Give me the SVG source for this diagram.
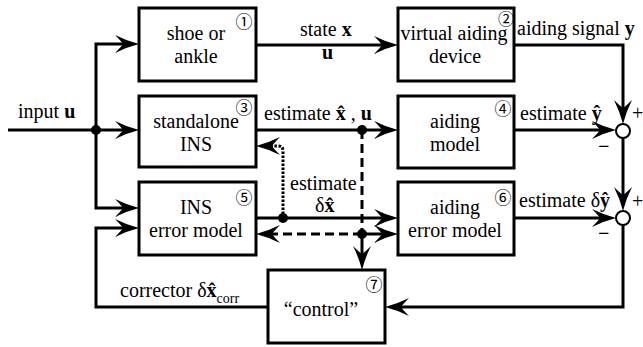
<svg xmlns="http://www.w3.org/2000/svg" width="643" height="347" viewBox="0 0 643 347" font-family="Liberation Serif, serif" font-size="20">
<style>
.box{fill:#fff;stroke:#000;stroke-width:3}
.m{text-anchor:middle}
.b{font-weight:bold}
.n{text-anchor:middle;dominant-baseline:central}
.ln{fill:none;stroke:#000;stroke-width:3}
.dash{stroke-dasharray:9,5}
.dot{stroke-dasharray:2.5,1.5}
.sum{fill:#fff;stroke:#000;stroke-width:2}
</style>
<defs>
<marker id="ah" markerUnits="userSpaceOnUse" viewBox="-10 -10 28 20" markerWidth="28" markerHeight="20" refX="0" refY="0" orient="auto">
<path d="M16,0 Q4,-3 -8,-9 Q-2,-3 0,0 Q-2,3 -8,9 Q4,3 16,0 Z" fill="#000"/>
</marker>
</defs>
<rect width="643" height="347" fill="#fff"/>
<g id="connectors">
<path class="ln" d="M8,130 H123" marker-end="url(#ah)"/>
<path class="ln" d="M96,130 V44 H123" marker-end="url(#ah)"/>
<path class="ln" d="M96,130 V208 H123" marker-end="url(#ah)"/>
<path class="ln" d="M268,307 H96 V228 H123" marker-end="url(#ah)"/>
<path class="ln" d="M256,45 H382" marker-end="url(#ah)"/>
<path class="ln" d="M256,130 H382" marker-end="url(#ah)"/>
<path class="ln" d="M514,130 H600" marker-end="url(#ah)"/>
<path class="ln" d="M514,45 H623 V108" marker-end="url(#ah)"/>
<path class="ln" d="M623,138 V195" marker-end="url(#ah)"/>
<path class="ln" d="M514,218 H600" marker-end="url(#ah)"/>
<path class="ln" d="M623,225 V307 H401" marker-end="url(#ah)"/>
<path class="ln" d="M256,218 H382" marker-end="url(#ah)"/>
<path class="ln dash" d="M362,130 V234"/>
<path class="ln dash" d="M362,234 H272" marker-end="url(#ah)"/>
<path class="ln" d="M362,234 V254" marker-end="url(#ah)"/>
<path class="ln" d="M362,234 H382" marker-end="url(#ah)"/>
<path class="ln dot" d="M283,218 V151 Q283,146 278,146 H272" marker-end="url(#ah)"/>
<circle cx="96" cy="130" r="5"/>
<circle cx="362" cy="130" r="5"/>
<circle cx="283" cy="218" r="5"/>
<circle cx="362" cy="234" r="5"/>
<circle class="sum" cx="623" cy="131" r="7"/>
<circle class="sum" cx="623" cy="218" r="7"/>
<text x="632" y="120">+</text>
<text class="b" x="598" y="153">−</text>
<text x="632" y="208">+</text>
<text class="b" x="598" y="240">−</text>
<text x="18" y="118">input <tspan class="b">u</tspan></text>
<text x="300" y="36">state <tspan class="b">x</tspan></text>
<text class="b" x="322" y="59">u</text>
<text x="264" y="120">estimate <tspan class="b">x̂</tspan> , <tspan class="b">u</tspan></text>
<text x="517" y="35">aiding signal <tspan class="b">y</tspan></text>
<text x="520" y="120">estimate <tspan class="b">ŷ</tspan></text>
<text x="519" y="207">estimate δ<tspan class="b">ŷ</tspan></text>
<text x="290" y="190">estimate</text>
<text x="315" y="212">δ<tspan class="b">x̂</tspan></text>
<text x="120" y="297">corrector δ<tspan class="b">x̂</tspan><tspan font-size="14" dy="6">corr</tspan></text>
</g>
<g id="n1"><rect class="box" x="139" y="8" width="117" height="73"/><text class="m" x="196" y="40">shoe or</text><text class="m" x="196" y="63">ankle</text><text font-family="Noto Sans CJK JP" font-size="17" class="n" x="244" y="20">①</text></g>
<g id="n2"><rect class="box" x="398" y="8" width="116" height="73"/><text class="m" x="454" y="40">virtual aiding</text><text class="m" x="455" y="63">device</text><text font-family="Noto Sans CJK JP" font-size="16" class="n" x="506" y="18">②</text></g>
<g id="n3"><rect class="box" x="139" y="96" width="117" height="71"/><text class="m" x="196" y="128">standalone</text><text class="m" x="196" y="151">INS</text><text font-family="Noto Sans CJK JP" font-size="17" class="n" x="244" y="106">③</text></g>
<g id="n4"><rect class="box" x="398" y="96" width="116" height="72"/><text class="m" x="455" y="128">aiding</text><text class="m" x="455" y="151">model</text><text font-family="Noto Sans CJK JP" font-size="17" class="n" x="503" y="107">④</text></g>
<g id="n5"><rect class="box" x="139" y="182" width="117" height="73"/><text class="m" x="196" y="214">INS</text><text class="m" x="196" y="237">error model</text><text font-family="Noto Sans CJK JP" font-size="17" class="n" x="244" y="196">⑤</text></g>
<g id="n6"><rect class="box" x="398" y="182" width="116" height="73"/><text class="m" x="455" y="214">aiding</text><text class="m" x="455" y="237">error model</text><text font-family="Noto Sans CJK JP" font-size="17" class="n" x="503" y="196">⑥</text></g>
<g id="n7"><rect class="box" x="268" y="270" width="117" height="73"/><text class="m" x="321" y="316">“control”</text><text font-family="Noto Sans CJK JP" font-size="17" class="n" x="374" y="283">⑦</text></g>
</svg>
